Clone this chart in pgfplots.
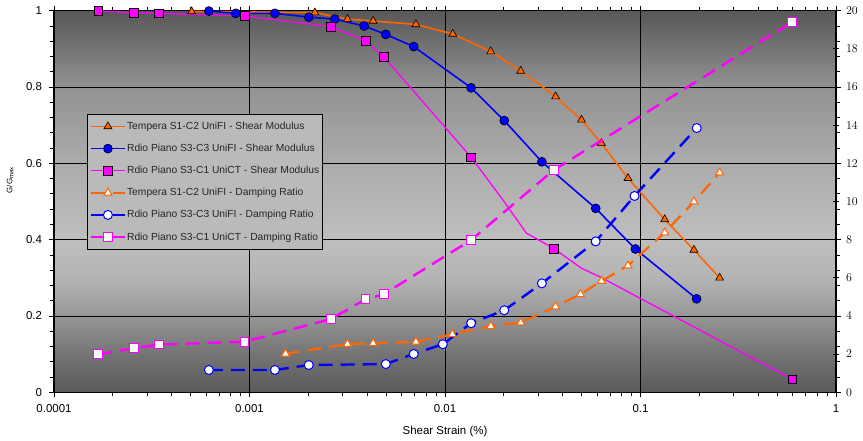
\documentclass[border=0pt]{standalone}
\usepackage{pgfplots}
\pgfplotsset{compat=1.18}
\usepackage{fontspec}
\setmainfont{Liberation Sans}
\definecolor{myorange}{RGB}{255,102,0}
\definecolor{mymagenta}{RGB}{255,0,255}
\definecolor{myblue}{RGB}{0,0,255}
\definecolor{bgA}{RGB}{90,90,90}
\definecolor{bgB}{RGB}{116,116,116}
\definecolor{bgC}{RGB}{160,160,160}
\definecolor{bgD}{RGB}{180,180,180}
\definecolor{bgE}{RGB}{190,190,190}
\definecolor{bgF}{RGB}{172,172,172}
\definecolor{bgG}{RGB}{146,146,146}
\definecolor{bgH}{RGB}{88,88,88}
\definecolor{legbg}{RGB}{186,186,186}
\definecolor{legtext}{RGB}{38,38,38}
\pgfdeclareverticalshading{plotbg}{100bp}{color(0bp)=(bgA); color(25bp)=(bgA); color(30bp)=(bgB); color(36.5bp)=(bgC); color(40bp)=(bgD); color(45bp)=(bgE); color(55bp)=(bgF); color(65bp)=(bgG); color(75bp)=(bgH); color(100bp)=(bgH)}
\begin{document}
\begin{tikzpicture}
\useasboundingbox (0,0) rectangle (863bp,441bp);
\begin{axis}[
  at={(54bp,48.7bp)}, anchor=south west,
  scale only axis, width=782bp, height=381.6bp,
  xmode=log, xmin=1e-4, xmax=1,
  ymin=0, ymax=1,
  axis background/.style={shade, shading=plotbg},
  xtick={1e-4,1e-3,1e-2,1e-1,1},
  xticklabels={0.0001,0.001,0.01,0.1,1},
  minor xtick={2e-4,3e-4,4e-4,5e-4,6e-4,7e-4,8e-4,9e-4,
               2e-3,3e-3,4e-3,5e-3,6e-3,7e-3,8e-3,9e-3,
               2e-2,3e-2,4e-2,5e-2,6e-2,7e-2,8e-2,9e-2,
               0.2,0.3,0.4,0.5,0.6,0.7,0.8,0.9},
  ytick={0,0.2,0.4,0.6,0.8,1},
  yticklabels={0,0.2,0.4,0.6,0.8,1},
  minor y tick num=4,
  xmajorgrids, ymajorgrids,
  major grid style={black, line width=0.8bp},
  tick align=outside, major tick length=5bp, minor tick length=4bp,
  tick style={black, line width=0.8bp},
  axis line style={black, line width=1.2bp},
  ticklabel style={font=\fontsize{11.5}{13}\selectfont, text=black},
  x tick label style={yshift=-4bp},
  y tick label style={xshift=-3.5bp},
  xlabel={Shear Strain (\%)},
  xlabel style={at={(axis description cs:0.5,0)}, anchor=center, yshift=-39.4bp, font=\fontsize{11.5}{13}\selectfont},
  ylabel={G/G$_{\mathrm{max}}$},
  ylabel style={at={(axis description cs:-0.0563,0.556)}, anchor=center, font=\fontsize{8}{9}\selectfont},
]
% Tempera S1-C2 UniFI - Shear Modulus
\addplot[myorange, line width=1.6bp, mark=triangle*, mark size=4.6bp,
  mark options={fill=myorange, draw=black, line width=0.6bp}] coordinates {
(5.06e-4,0.998) (2.16e-3,0.995) (3.17e-3,0.978) (4.29e-3,0.973) (7.1e-3,0.964)
(0.01096,0.939) (0.01714,0.893) (0.0244,0.842) (0.0368,0.775) (0.0499,0.714)
(0.0631,0.6525) (0.0863,0.561) (0.133,0.453) (0.1877,0.373) (0.254,0.300)};
% Rdio Piano S3-C3 UniFI - Shear Modulus
\addplot[myblue, line width=1.6bp, mark=*, mark size=4.5bp,
  mark options={fill=myblue, draw=black, line width=0.6bp}] coordinates {
(6.2e-4,0.999) (8.5e-4,0.993) (1.35e-3,0.993) (2.01e-3,0.983) (2.73e-3,0.978)
(3.86e-3,0.960) (4.98e-3,0.938) (6.92e-3,0.906) (0.0136,0.798) (0.0201,0.712)
(0.0313,0.604) (0.059,0.482) (0.0942,0.3755) (0.1936,0.245)};
% Rdio Piano S3-C1 UniCT - Shear Modulus
\addplot[mymagenta, line width=1.3bp, mark=square*, mark size=4.4bp,
  mark indices={1,2,3,4,5,6,7,8,11,14},
  mark options={fill=mymagenta, draw=black, line width=0.6bp}] coordinates {
(1.685e-4,0.999) (2.57e-4,0.995) (3.44e-4,0.993) (9.44e-4,0.986) (2.61e-3,0.958)
(3.92e-3,0.921) (4.86e-3,0.8795) (0.0136,0.616) (0.0198,0.504) (0.0261,0.417)
(0.036,0.377) (0.0499,0.325) (0.0618,0.303) (0.598,0.034)};
\end{axis}
\begin{axis}[
  at={(54bp,48.7bp)}, anchor=south west,
  scale only axis, width=782bp, height=381.6bp,
  xmode=log, xmin=1e-4, xmax=1,
  ymin=0, ymax=20,
  axis x line=none, axis y line*=right,
  ytick={0,2,4,6,8,10,12,14,16,18,20},
  tick align=center, major tick length=6bp,
  tick style={black, line width=0.8bp},
  axis line style={black, line width=1.2bp},
  ticklabel style={font=\fontsize{11.5}{13}\selectfont, text=black},
  y tick label style={xshift=3.5bp},
  legend cell align=left,
  legend style={at={(0.0426,0.729)}, anchor=north west, fill=legbg, draw=black, line width=0.8bp,
    font=\fontsize{10.3}{12}\selectfont, text=legtext, row sep=9.2bp, inner xsep=2bp, inner ysep=5.5bp,
    nodes={inner xsep=1bp}},
  legend image code/.code={\draw[mark repeat=2,mark phase=2,#1] plot coordinates {(0bp,0bp) (17bp,0bp) (34bp,0bp)};},
]
\addlegendimage{myorange, line width=1.6bp, mark=triangle*, mark size=4.6bp, mark options={fill=myorange, draw=black, line width=0.6bp}}
\addlegendentry{Tempera S1-C2 UniFI - Shear Modulus}
\addlegendimage{myblue, line width=1.6bp, mark=*, mark size=4.5bp, mark options={fill=myblue, draw=black, line width=0.6bp}}
\addlegendentry{Rdio Piano S3-C3 UniFI - Shear Modulus}
\addlegendimage{mymagenta, line width=1.3bp, mark=square*, mark size=4.4bp, mark options={fill=mymagenta, draw=black, line width=0.6bp}}
\addlegendentry{Rdio Piano S3-C1 UniCT - Shear Modulus}
% Tempera S1-C2 UniFI - Damping Ratio
\addplot[myorange, line width=2.2bp, dash pattern=on 14bp off 8bp, mark=triangle*, mark size=4.6bp,
  mark options={solid, fill=white, draw=myorange, line width=1bp}] coordinates {
(1.53e-3,2.02) (3.17e-3,2.53) (4.29e-3,2.57) (7.1e-3,2.64) (0.0109,3.04)
(0.01714,3.47) (0.0244,3.65) (0.0368,4.49) (0.0493,5.14) (0.0631,5.83)
(0.0863,6.64) (0.133,8.37) (0.1877,9.99) (0.254,11.51)};
\addlegendentry{Tempera S1-C2 UniFI - Damping Ratio}
% Rdio Piano S3-C3 UniFI - Damping Ratio
\addplot[myblue, line width=2.4bp, dash pattern=on 14bp off 8bp, mark=*, mark size=4.5bp,
  mark options={solid, fill=white, draw=myblue, line width=1bp}] coordinates {
(6.2e-4,1.17) (1.35e-3,1.17) (2.01e-3,1.43) (4.98e-3,1.48) (6.92e-3,2.01)
(9.75e-3,2.52) (0.0136,3.62) (0.0201,4.30) (0.0313,5.71) (0.059,7.91)
(0.0932,10.29) (0.194,13.85)};
\addlegendentry{Rdio Piano S3-C3 UniFI - Damping Ratio}
% Rdio Piano S3-C1 UniCT - Damping Ratio
\addplot[mymagenta, line width=2.4bp, dash pattern=on 14bp off 8bp, mark=square*, mark size=4.4bp,
  mark options={solid, fill=white, draw=mymagenta, line width=1bp}] coordinates {
(1.685e-4,1.99) (2.57e-4,2.31) (3.44e-4,2.50) (9.44e-4,2.65) (2.61e-3,3.84)
(3.92e-3,4.87) (4.86e-3,5.14) (0.0136,7.98) (0.036,11.65) (0.598,19.41)};
\addlegendentry{Rdio Piano S3-C1 UniCT - Damping Ratio}
\end{axis}
\end{tikzpicture}
\end{document}
